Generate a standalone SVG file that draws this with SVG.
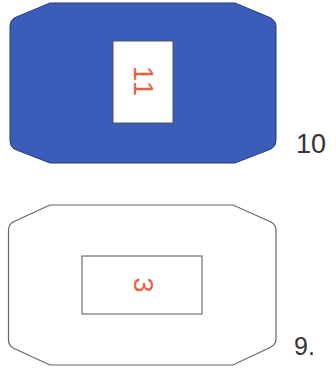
<svg xmlns="http://www.w3.org/2000/svg" width="336" height="369" viewBox="0 0 336 369">
<style>
.lbl{font-family:"Liberation Sans",Arial,sans-serif;fill:#333}
.num{font-family:"Liberation Sans",Arial,sans-serif;font-size:27px;fill:#e8603f}
.box{fill:#fff;stroke:#555;stroke-width:1}
</style>
<rect width="336" height="369" fill="#fff"/>
<g id="node10">
<path d="M50,3 L235,3 L271,18 Q276,21 276,26 L276,141 Q276,146 271,149 L235,163 L50,163 L14,149 Q10,146 10,141 L10,26 Q10,21 14,18 Z" fill="#3a5dba" stroke="#2a3a70" stroke-width="1"/>
<rect class="box" x="113" y="41" width="60" height="82"/>
<text class="num" transform="translate(143,82) rotate(90)" text-anchor="middle" dominant-baseline="central" letter-spacing="2">11</text>
<text class="lbl" x="296" y="153" font-size="27">10</text>
</g>
<g id="node9">
<path d="M50,205 L233,205 L271,222 Q276,225 276,230 L276,339 Q276,344 271,347 L233,365 L50,365 L13,348 Q8.5,345 8.5,340 L8.5,230 Q8.5,225 13,222 Z" fill="#fff" stroke="#666" stroke-width="1.2"/>
<rect class="box" x="82" y="256" width="120" height="58"/>
<text class="num" transform="translate(143,285) rotate(90)" text-anchor="middle" dominant-baseline="central">3</text>
<text class="lbl" x="294" y="355" font-size="25">9.</text>
</g>
<g id="connectors"/>
</svg>
